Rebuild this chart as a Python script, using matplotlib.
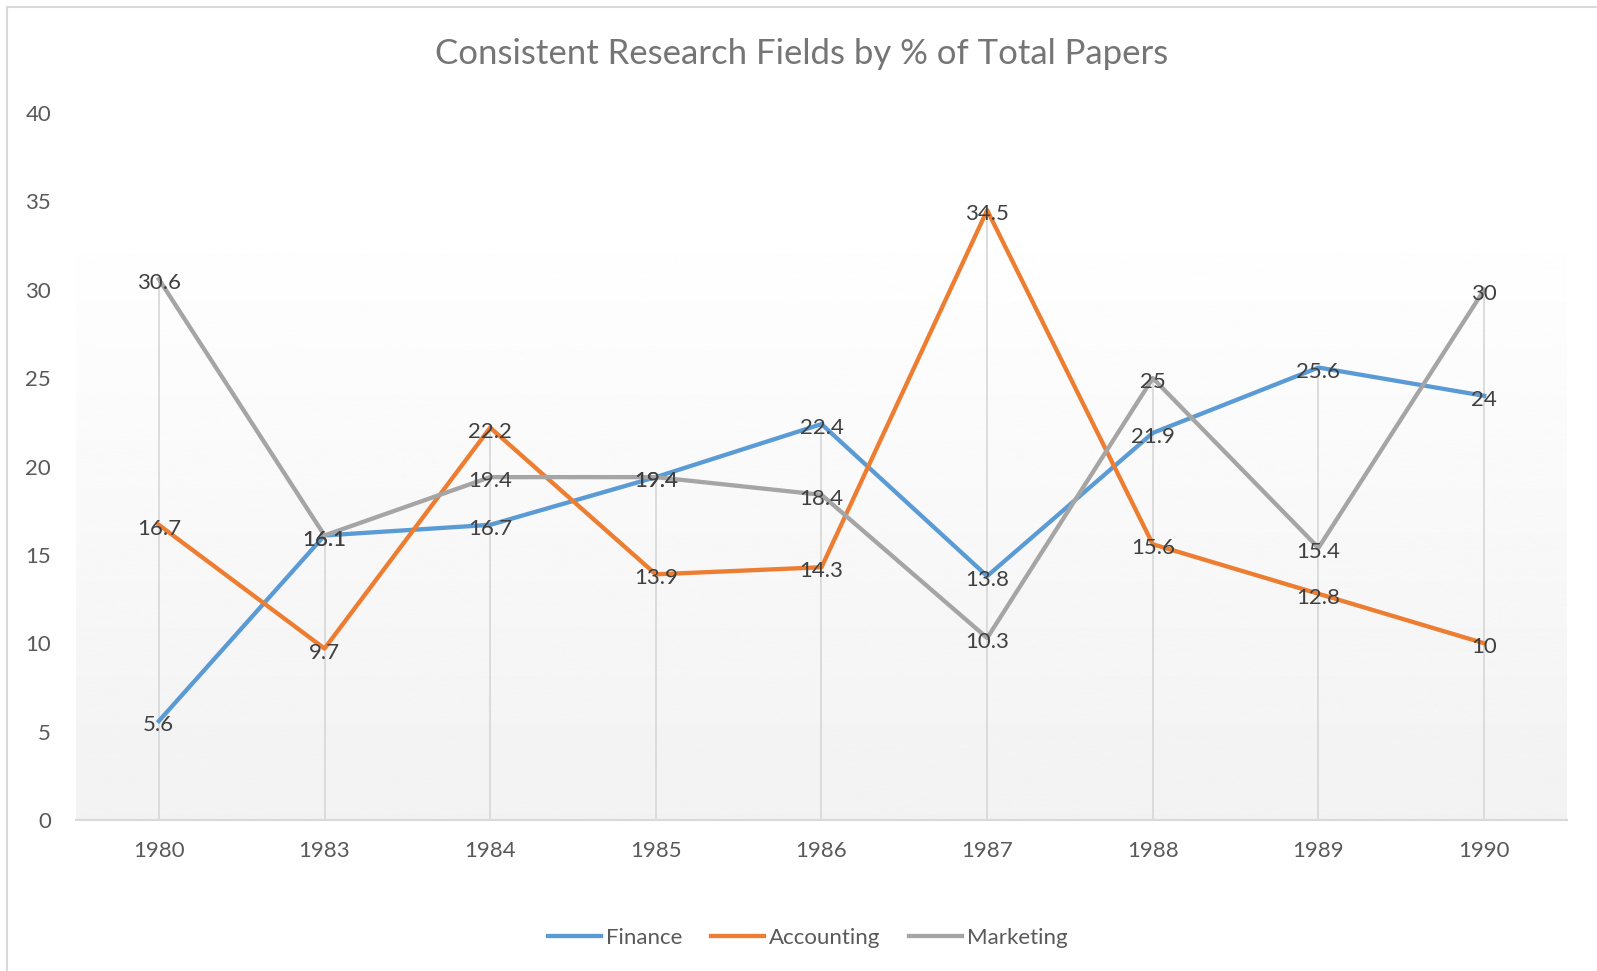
import matplotlib.pyplot as plt
import numpy as np
from matplotlib.lines import Line2D

# Data
years = ['1980', '1983', '1984', '1985', '1986', '1987', '1988', '1989', '1990']
finance = [5.6, 16.1, 16.7, 19.4, 22.4, 13.8, 21.9, 25.6, 24]
accounting = [16.7, 9.7, 22.2, 13.9, 14.3, 34.5, 15.6, 12.8, 10]
marketing = [30.6, 16.1, 19.4, 19.4, 18.4, 10.3, 25, 15.4, 30]

plt.rcParams['font.family'] = ['Lato', 'DejaVu Sans']

fig = plt.figure(figsize=(15.97, 9.71), dpi=100)
ax = fig.add_axes([0.0476, 0.1555, 0.9336, 0.7281])

x = np.arange(len(years))
ax.set_xlim(-0.5, len(years) - 0.5)
ax.set_ylim(0, 40)

# Gradient fill of the plot area (white at top, light gray at bottom)
grad = np.linspace(1.0, 0.949, 256).reshape(-1, 1)
ax.imshow(grad, cmap='gray', vmin=0, vmax=1, aspect='auto',
          extent=(-0.5, len(years) - 0.5, 0, 34.7), origin='upper', zorder=0)

# Drop lines from 0 to the highest point at each category
tops = np.max([finance, accounting, marketing], axis=0)
ax.vlines(x, 0, tops, color='#d9d9d9', linewidth=1.3, zorder=1)

# Series
ax.plot(x, finance, color='#5B9BD5', linewidth=3.1, label='Finance', zorder=3)
ax.plot(x, accounting, color='#ED7D31', linewidth=3.1, label='Accounting', zorder=3)
ax.plot(x, marketing, color='#A5A5A5', linewidth=3.1, label='Marketing', zorder=3)

# Data labels (centered on each point)
for series in (finance, accounting, marketing):
    for xi, v in zip(x, series):
        ax.annotate(f'{v:g}', (xi, v), xytext=(0, -1.5), textcoords='offset points',
                    ha='center', va='center_baseline', fontsize=16,
                    color='#404040', zorder=5)

# Axes styling
for side in ('top', 'right', 'left'):
    ax.spines[side].set_visible(False)
ax.spines['bottom'].set_color('#d9d9d9')
ax.spines['bottom'].set_linewidth(1.5)
ax.set_xticks(x)
ax.set_xticklabels(years)
ax.set_yticks(range(0, 41, 5))
ax.tick_params(axis='both', length=0, labelsize=16, labelcolor='#595959')
ax.tick_params(axis='y', pad=18)
ax.tick_params(axis='x', pad=15)
ax.patch.set_alpha(0)

fig.suptitle('Consistent Research Fields by % of Total Papers', x=0.502, y=0.944,
             va='center', fontsize=25, color='#757575')

ax.legend(loc='center', bbox_to_anchor=(0.506, 0.034), bbox_transform=fig.transFigure,
          ncol=3, frameon=False, fontsize=16, labelcolor='#595959',
          handlelength=2.35, handletextpad=0.25, columnspacing=1.3)

# Chart border (left and top visible)
fig.add_artist(Line2D([7 / 1597, 7 / 1597], [0, 1 - 7 / 971], color='#d9d9d9', linewidth=1.5))
fig.add_artist(Line2D([7 / 1597, 1], [1 - 7 / 971, 1 - 7 / 971], color='#d9d9d9', linewidth=1.5))

fig.savefig('out.png', dpi=100)
